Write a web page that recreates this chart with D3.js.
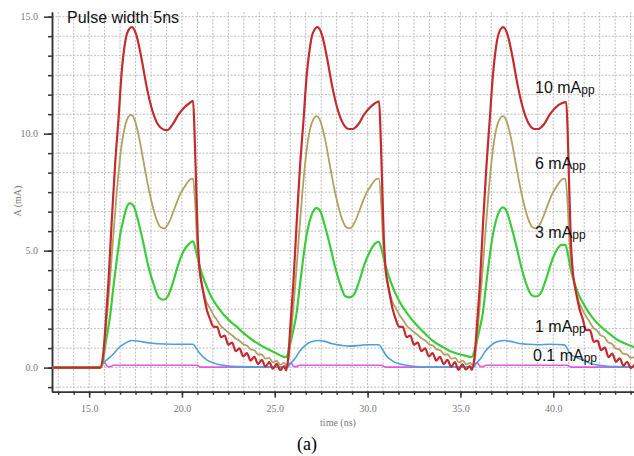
<!DOCTYPE html>
<html>
<head>
<meta charset="utf-8">
<script src="https://cdn.jsdelivr.net/npm/d3@7"></script>
<style>
  body { margin: 0; background: #fff; }
  .grid line { stroke: #bdbdbd; stroke-width: 1; stroke-dasharray: 2,1.5; }
  .axis path, .axis line { stroke: #333; stroke-width: 1.5; }
  .axis text { font-family: "Liberation Serif", serif; font-size: 10px; fill: #777; }
</style>
</head>
<body>
<svg id="chart" width="634" height="456"></svg>
<script>
(function() {

// ---- data ----
var xTicks = [15, 20, 25, 30, 35, 40],
    yTicks = [0, 5, 10, 15];

// 10 mApp  [time ns, current mA]
var red10 = [
  [13.0,0],[15.6,0],[15.75,0.5],[15.9,2.0],[16.05,3.8],[16.22,6.3],[16.4,8.7],[16.58,10.6],[16.75,12.6],[16.9,13.7],
  [17.05,14.3],[17.3,14.55],[17.55,14.2],[17.8,13.3],[18.1,12.0],[18.4,11.0],[18.7,10.4],[19.0,10.18],[19.2,10.15],
  [19.5,10.4],[19.8,10.8],[20.1,11.1],[20.4,11.3],[20.6,11.4],[20.68,10.0],[20.75,8.2],[20.85,5.6],[20.95,4.2],
  [21.06,3.6],[21.2,3.0],[21.33,2.5],[21.5,2.1],[21.7,1.75],[21.9,1.74],[22.1,1.3],[22.3,1.37],[22.5,0.98],
  [22.7,1.07],[22.9,0.7],[23.1,0.82],[23.3,0.48],[23.5,0.62],[23.7,0.3],[23.9,0.46],[24.1,0.15],[24.3,0.33],
  [24.5,0.04],[24.7,0.23],[24.9,-0.05],[25.1,0.16],[25.3,-0.11],[25.5,0.06],[25.62,-0.12],
  [25.72,0.4],[25.85,1.9],[26.0,3.6],[26.18,6.2],[26.36,8.6],[26.55,10.6],[26.72,12.5],[26.88,13.6],[27.03,14.25],
  [27.3,14.55],[27.55,14.2],[27.8,13.3],[28.1,12.0],[28.4,11.0],[28.7,10.4],[29.0,10.2],[29.2,10.2],[29.5,10.4],
  [29.8,10.8],[30.1,11.1],[30.4,11.3],[30.62,11.38],[30.7,10.0],[30.77,8.2],[30.87,5.6],[30.97,4.2],[31.08,3.6],
  [31.22,3.0],[31.35,2.5],[31.5,2.1],[31.7,1.75],[31.9,1.74],[32.1,1.3],[32.3,1.37],[32.5,0.98],[32.7,1.07],
  [32.9,0.7],[33.1,0.82],[33.3,0.48],[33.5,0.62],[33.7,0.3],[33.9,0.46],[34.1,0.15],[34.3,0.33],[34.5,0.04],
  [34.7,0.23],[34.9,-0.1],[35.1,0.14],[35.3,-0.08],[35.5,0.06],[35.62,-0.1],
  [35.75,0.4],[35.9,1.9],[36.05,3.6],[36.22,6.2],[36.4,8.6],[36.58,10.6],[36.75,12.5],[36.9,13.6],[37.05,14.25],
  [37.3,14.55],[37.55,14.2],[37.8,13.3],[38.1,12.0],[38.4,11.0],[38.7,10.4],[39.0,10.2],[39.2,10.2],[39.5,10.4],
  [39.8,10.8],[40.1,11.1],[40.45,11.3],[40.7,11.35],[40.78,10.0],[40.85,8.0],[40.94,5.6],[41.04,4.2],[41.14,3.6],
  [41.28,3.0],[41.42,2.5],[41.58,2.1],[41.78,1.6],[41.98,1.6],[42.18,1.1],[42.38,1.15],[42.58,0.75],[42.78,0.85],
  [42.98,0.45],[43.18,0.6],[43.38,0.25],[43.58,0.4],[43.78,0.08],[43.98,0.25],[44.18,-0.02],[44.4,0.15]
];

// 6 mApp
var olive6 = [
  [13.0,0],[15.6,0],[15.75,0.4],[15.9,1.6],[16.1,3.5],[16.3,5.6],[16.5,7.6],[16.7,9.2],[16.9,10.2],[17.1,10.7],
  [17.25,10.8],[17.45,10.6],[17.7,9.8],[18.0,8.5],[18.3,7.3],[18.6,6.4],[18.85,6.0],[19.05,5.95],[19.3,6.2],
  [19.6,6.8],[19.9,7.4],[20.2,7.8],[20.45,8.05],[20.6,8.08],[20.7,7.2],[20.8,5.6],[20.9,4.5],[21.0,3.9],
  [21.15,3.3],[21.3,2.85],[21.5,2.55],[21.7,2.25],[21.9,2.02],[22.1,1.78],[22.3,1.64],[22.5,1.5],[22.7,1.38],
  [22.9,1.24],[23.1,1.15],[23.3,1.0],[23.5,0.94],[23.7,0.78],[23.9,0.74],[24.1,0.56],[24.3,0.56],[24.5,0.38],
  [24.7,0.42],[24.9,0.22],[25.1,0.3],[25.3,0.12],[25.5,0.2],[25.62,0.1],
  [25.75,0.4],[25.9,1.6],[26.1,3.5],[26.3,5.6],[26.5,7.6],[26.7,9.2],[26.9,10.2],[27.1,10.65],[27.25,10.75],
  [27.45,10.55],[27.7,9.8],[28.0,8.5],[28.3,7.3],[28.6,6.4],[28.85,6.0],[29.05,5.95],[29.3,6.2],[29.6,6.8],
  [29.9,7.4],[30.2,7.8],[30.45,8.05],[30.6,8.08],[30.72,7.2],[30.82,5.6],[30.92,4.5],[31.02,3.9],[31.17,3.3],
  [31.32,2.85],[31.52,2.55],[31.72,2.25],[31.92,2.02],[32.12,1.78],[32.32,1.64],[32.52,1.5],[32.72,1.38],
  [32.92,1.24],[33.12,1.15],[33.32,1.0],[33.52,0.94],[33.72,0.78],[33.92,0.74],[34.12,0.56],[34.32,0.56],
  [34.52,0.38],[34.72,0.42],[34.92,0.22],[35.12,0.3],[35.32,0.14],[35.52,0.2],[35.65,0.12],
  [35.78,0.4],[35.93,1.6],[36.13,3.5],[36.33,5.6],[36.53,7.6],[36.73,9.2],[36.93,10.2],[37.13,10.65],[37.28,10.75],
  [37.48,10.55],[37.73,9.8],[38.03,8.5],[38.33,7.3],[38.63,6.4],[38.88,6.0],[39.08,5.95],[39.33,6.2],[39.63,6.8],
  [39.93,7.4],[40.23,7.8],[40.48,8.05],[40.65,8.08],[40.76,7.2],[40.86,5.6],[40.96,4.5],[41.06,3.9],[41.21,3.3],
  [41.36,2.85],[41.56,2.5],[41.76,2.2],[41.96,1.95],[42.16,1.7],[42.36,1.58],[42.56,1.38],[42.76,1.3],[42.96,1.08],
  [43.16,1.02],[43.36,0.82],[43.56,0.78],[43.76,0.6],[43.96,0.58],[44.16,0.42],[44.4,0.44]
];

// 3 mApp
var green3 = [
  [13.0,0],[15.6,0],[15.7,0.1],[15.9,1.1],[16.13,2.2],[16.3,3.4],[16.49,4.6],[16.7,5.8],[16.84,6.3],[17.0,6.8],
  [17.2,7.03],[17.4,6.9],[17.6,6.4],[17.9,5.4],[18.2,4.3],[18.5,3.5],[18.75,3.0],[19.0,2.9],[19.2,3.0],[19.5,3.6],
  [19.8,4.4],[20.1,5.0],[20.4,5.3],[20.6,5.4],[20.75,5.0],[20.9,4.5],[21.1,3.95],[21.33,3.47],[21.6,3.0],
  [22.04,2.47],[22.5,2.05],[22.94,1.75],[23.4,1.42],[23.8,1.18],[24.25,0.95],[24.7,0.76],[25.1,0.6],[25.45,0.47],
  [25.62,0.45],[25.8,0.9],[26.0,1.6],[26.17,2.3],[26.35,3.5],[26.52,4.6],[26.7,5.6],[26.86,6.2],[27.02,6.6],
  [27.25,6.83],[27.45,6.7],[27.65,6.2],[27.95,5.3],[28.25,4.3],[28.55,3.5],[28.8,3.05],[29.03,3.0],[29.25,3.1],
  [29.55,3.7],[29.85,4.45],[30.15,5.0],[30.4,5.3],[30.6,5.37],[30.77,5.0],[30.92,4.5],[31.12,3.95],[31.35,3.45],
  [31.7,2.85],[32.1,2.35],[32.6,1.85],[33.1,1.45],[33.5,1.15],[34.0,0.9],[34.4,0.72],[34.9,0.58],[35.3,0.5],
  [35.6,0.45],[35.82,0.9],[36.02,1.6],[36.2,2.3],[36.38,3.5],[36.55,4.6],[36.73,5.6],[36.89,6.2],[37.05,6.6],
  [37.28,6.85],[37.48,6.7],[37.68,6.2],[37.98,5.3],[38.28,4.3],[38.58,3.5],[38.83,3.1],[39.07,3.04],[39.3,3.15],
  [39.6,3.75],[39.9,4.5],[40.2,5.05],[40.45,5.25],[40.65,5.25],[40.8,4.8],[40.95,4.18],[41.15,3.6],[41.38,3.1],
  [41.65,2.7],[42.05,2.2],[42.5,1.8],[42.94,1.5],[43.4,1.22],[43.9,1.02],[44.4,0.86]
];

// 1 mApp
var blue1 = [
  [13.0,0],[15.6,0],[15.68,0.12],[16.0,0.36],[16.3,0.58],[16.6,0.85],[16.84,0.99],[17.3,1.16],[17.6,1.14],
  [17.92,1.09],[18.3,1.05],[18.63,1.02],[19.5,1.0],[20.6,1.0],[20.75,0.85],[20.97,0.6],[21.33,0.33],[21.7,0.2],
  [22.04,0.12],[22.5,0.07],[23.1,0.04],[24.0,0.02],[25.7,0.02],
  [25.82,0.15],[26.1,0.4],[26.34,0.7],[26.6,0.92],[26.9,1.08],[27.35,1.16],[27.7,1.12],[28.1,1.02],[28.6,0.95],
  [29.03,0.92],[29.6,0.95],[30.0,0.98],[30.6,0.98],[30.78,0.8],[31.0,0.52],[31.35,0.28],[31.7,0.16],[32.1,0.1],
  [32.6,0.05],[33.2,0.03],[34.0,0.02],[35.7,0.02],
  [35.82,0.15],[36.1,0.4],[36.34,0.7],[36.6,0.92],[36.9,1.08],[37.35,1.16],[37.7,1.12],[38.1,1.04],[38.6,1.0],
  [39.2,0.98],[39.8,1.0],[40.6,0.97],[40.75,0.82],[40.9,0.6],[41.2,0.45],[41.67,0.3],[42.0,0.18],[42.3,0.12],
  [42.8,0.07],[43.4,0.04],[44.4,0.03]
];

// 0.1 mApp
var magenta01 = [
  [13.0,0],[15.62,0],[15.72,0.17],[15.85,0.2],[15.98,0.06],[16.12,0.03],[16.3,0.1],[20.8,0.1],[21.0,0.02],
  [25.65,0.02],[25.75,0.17],[25.88,0.19],[26.0,0.06],[26.15,0.04],[26.32,0.1],[30.75,0.1],[30.95,0.02],
  [35.7,0.02],[35.8,0.17],[35.93,0.19],[36.05,0.06],[36.2,0.04],[36.37,0.1],[40.75,0.1],[40.95,0.02],[44.4,0.02]
];

var seriesNames = ["0.1 mA", "1 mA", "3 mA", "6 mA", "10 mA"],
    seriesData = [magenta01, blue1, green3, olive6, red10],
    seriesColors = ["#e356e0", "#4d9fe0", "#3ccc3a", "#aea362", "#c42a2e"],
    seriesWidths = [1.6, 1.6, 2.2, 1.8, 2.2],
    labelY = [361, 332, 238, 169, 93];   // baseline of the right-hand labels

// ---- layout ----
var svg = d3.select("#chart");

var x = d3.scaleLinear().domain([13.0, 44.35]).range([52, 634]);
var y = d3.scaleLinear().domain([-1.03, 15.2]).range([391.7, 12]);

var minorX = d3.range(15 - 5 * 5 / 6, 44.4, 5 / 6).filter(function(d) { return d > 13.0; }),
    minorY = d3.range(-5 / 6, 15.2, 5 / 6);

// grid
var grid = svg.append("g").attr("class", "grid");
grid.selectAll(".gx")
  .data(minorX)
  .enter().append("line")
    .attr("x1", function(d) { return x(d); })
    .attr("x2", function(d) { return x(d); })
    .attr("y1", y.range()[1])
    .attr("y2", y.range()[0]);
grid.selectAll(".gy")
  .data(minorY)
  .enter().append("line")
    .attr("x1", x.range()[0])
    .attr("x2", x.range()[1])
    .attr("y1", function(d) { return y(d); })
    .attr("y2", function(d) { return y(d); });

// axes: minor ticks then labelled major ticks
var xAxisG = svg.append("g").attr("class", "axis").attr("transform", "translate(0," + y.range()[0] + ")");
xAxisG.call(d3.axisBottom(x).tickValues(minorX).tickSize(3).tickSizeOuter(0).tickFormat(""));
var xMajor = svg.append("g").attr("class", "axis").attr("transform", "translate(0," + y.range()[0] + ")")
  .call(d3.axisBottom(x).tickValues(xTicks).tickSize(6).tickSizeOuter(0).tickFormat(d3.format(".1f")));
xMajor.selectAll("text").attr("dy", "1.1em");

var yAxisG = svg.append("g").attr("class", "axis").attr("transform", "translate(" + x.range()[0] + ",0)");
yAxisG.call(d3.axisLeft(y).tickValues(minorY).tickSize(4).tickSizeOuter(0).tickFormat(""));
var yMajor = svg.append("g").attr("class", "axis").attr("transform", "translate(" + x.range()[0] + ",0)")
  .call(d3.axisLeft(y).tickValues(yTicks).tickSize(8).tickSizeOuter(0).tickFormat(d3.format(".1f")));
yMajor.selectAll("text").attr("x", -14);

svg.append("text")
  .attr("transform", "translate(21,201) rotate(-90)")
  .attr("text-anchor", "middle")
  .style("font-family", "Liberation Serif, serif").style("font-size", "10px").style("fill", "#777")
  .text("A (mA)");

svg.append("text")
  .attr("x", 338).attr("y", 426)
  .attr("text-anchor", "middle")
  .style("font-family", "Liberation Serif, serif").style("font-size", "10px").style("fill", "#777")
  .text("time (ns)");

// traces
var line = d3.line()
  .x(function(d) { return x(d[0]); })
  .y(function(d) { return y(d[1]); })
  .curve(d3.curveMonotoneX);

var plot = svg.append("g");
plot.append("clipPath").attr("id", "clip")
  .append("rect").attr("x", x.range()[0]).attr("y", 0).attr("width", 634 - x.range()[0]).attr("height", y.range()[0]);

plot.selectAll(".trace")
  .data(seriesData)
  .enter().append("path")
    .attr("class", "trace")
    .attr("clip-path", "url(#clip)")
    .attr("fill", "none")
    .attr("stroke", function(d, i) { return seriesColors[i]; })
    .attr("stroke-width", function(d, i) { return seriesWidths[i]; })
    .attr("stroke-linejoin", "round")
    .attr("d", line);

// labels
var lab = svg.selectAll(".lab")
  .data(seriesNames)
  .enter().append("text")
    .attr("class", "lab")
    .attr("x", function(d, i) { return i === 0 ? 533 : 535; })
    .attr("y", function(d, i) { return labelY[i]; })
    .style("font-family", "Liberation Sans, Arial, sans-serif")
    .style("font-size", "16px")
    .style("fill", "#111")
    .text(function(d) { return d; });
lab.append("tspan").style("font-size", "12px").attr("dy", 1).text("pp");

svg.append("text")
  .attr("x", 67).attr("y", 23)
  .style("font-family", "Liberation Sans, Arial, sans-serif")
  .style("font-size", "16px")
  .style("fill", "#111")
  .text("Pulse width 5ns");

svg.append("text")
  .attr("x", 307).attr("y", 450)
  .attr("text-anchor", "middle")
  .style("font-family", "Liberation Serif, Times New Roman, serif")
  .style("font-size", "18px")
  .style("fill", "#000")
  .text("(a)");

})();
</script>
</body>
</html>
